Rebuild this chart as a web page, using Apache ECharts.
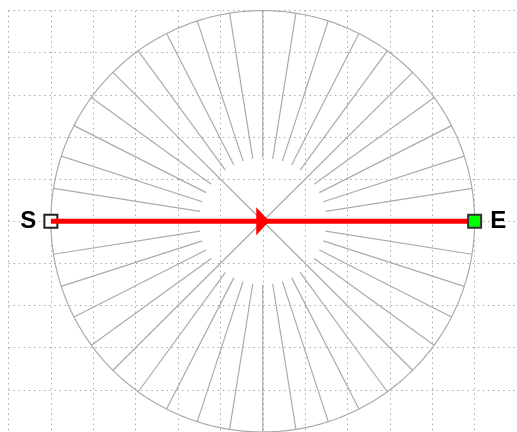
<!DOCTYPE html>
<html>
<head>
<meta charset="utf-8">
<script src="https://cdn.jsdelivr.net/npm/echarts@6/dist/echarts.min.js"></script>
<style>html,body{margin:0;padding:0;background:#fff;}#c{width:517px;height:432px;}</style>
</head>
<body>
<div id="c"></div>
<script>
// ---- data ----
const xRange = [-6, 6];
const yRange = [-5, 5];
const circleCenter = [0, 0];
const circleRadius = 5;
const spokeInnerRadius = 1.5;
const spokeAnglesDeg = [9, 18, 27, 36, 54, 63, 72, 81, 90, 99, 108, 117, 126, 144, 153, 162, 171,
  189, 198, 207, 216, 234, 243, 252, 261, 270, 279, 288, 297, 306, 324, 333, 342, 351];
const diagonalAnglesDeg = [45, 135, 225, 315];
const pathStart = [-5, 0];
const pathEnd = [5, 0];
const pathMid = [0, 0];
const pointLabels = ['S', 'E'];

// ---- build ----
const spokeData = spokeAnglesDeg.map(a => [a, spokeInnerRadius, circleRadius])
  .concat(diagonalAnglesDeg.map(a => [a, 0, circleRadius]));

const chart = echarts.init(document.getElementById('c'), null, {renderer: 'canvas'});
const gray = '#ababab';
const axisCommon = {
  type: 'value', interval: 1,
  axisLine: {show: false}, axisTick: {show: false}, axisLabel: {show: false},
  splitLine: {show: true, lineStyle: {color: '#aaaaaa', width: 1, type: [1.5, 3.6]}}
};
chart.setOption({
  animation: false,
  backgroundColor: '#ffffff',
  grid: {left: 8.5, right: 0, top: 10.6, bottom: -0.4, containLabel: false},
  xAxis: Object.assign({}, axisCommon, {min: xRange[0], max: xRange[1]}),
  yAxis: Object.assign({}, axisCommon, {min: yRange[0], max: yRange[1]}),
  series: [
    {
      type: 'custom', z: 2, silent: true,
      data: [[circleCenter[0], circleCenter[1], circleRadius]],
      encode: {x: 0, y: 1},
      renderItem: function (params, api) {
        const cx = api.value(0), cy = api.value(1), r = api.value(2);
        const pts = [];
        for (let t = 0; t <= 360; t += 1) {
          const a = t * Math.PI / 180;
          pts.push(api.coord([cx + r * Math.cos(a), cy + r * Math.sin(a)]));
        }
        return {type: 'polyline', shape: {points: pts},
          style: {stroke: gray, lineWidth: 1.2, fill: null}};
      }
    },
    {
      type: 'custom', z: 2, silent: true,
      data: spokeData,
      encode: {x: 1, y: 2},
      renderItem: function (params, api) {
        const a = api.value(0) * Math.PI / 180;
        const r0 = api.value(1), r1 = api.value(2);
        const p0 = api.coord([circleCenter[0] + r0 * Math.cos(a), circleCenter[1] + r0 * Math.sin(a)]);
        const p1 = api.coord([circleCenter[0] + r1 * Math.cos(a), circleCenter[1] + r1 * Math.sin(a)]);
        return {type: 'line', shape: {x1: p0[0], y1: p0[1], x2: p1[0], y2: p1[1]},
          style: {stroke: gray, lineWidth: 1.2}};
      }
    },
    {
      type: 'scatter', z: 3, silent: true,
      data: [pathStart],
      symbol: 'rect', symbolSize: 13,
      itemStyle: {color: '#ffffff', borderColor: '#222222', borderWidth: 2, opacity: 1},
      label: {show: true, position: 'left', distance: 7, formatter: pointLabels[0],
        fontSize: 24, fontWeight: 'bold', color: '#000', fontFamily: 'Liberation Sans, Arial, sans-serif'}
    },
    {
      type: 'line', z: 4, silent: true,
      data: [pathStart, pathEnd],
      symbol: 'none',
      lineStyle: {color: '#ff0000', width: 5, cap: 'butt'}
    },
    {
      type: 'scatter', z: 5, silent: true,
      data: [pathMid],
      symbol: 'triangle', symbolSize: [28, 13], symbolRotate: -90,
      itemStyle: {color: '#ff0000', opacity: 1}
    },
    {
      type: 'scatter', z: 6, silent: true,
      data: [pathEnd],
      symbol: 'rect', symbolSize: 13,
      itemStyle: {color: '#00ff00', borderColor: '#333333', borderWidth: 2, opacity: 1},
      label: {show: true, position: 'right', distance: 8, formatter: pointLabels[1],
        fontSize: 24, fontWeight: 'bold', color: '#000', fontFamily: 'Liberation Sans, Arial, sans-serif'}
    }
  ]
});
</script>
</body>
</html>
